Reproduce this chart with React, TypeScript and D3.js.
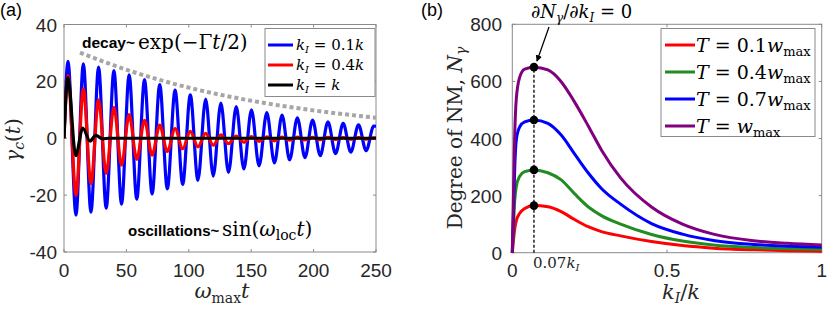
import React from 'react';
import * as d3 from 'd3';

const W = 831;
const H = 311;

// ---------- panel (a): gamma_c(t) ----------
// peak / trough times (shared by blue and red)
const tExt = [0, 3.2, 9.6, 15.5, 21.6, 27.7, 33.8, 40, 46.1, 52.2, 58.3, 64.5, 70.6, 76.7, 82.8, 89, 95.1,
  101.2, 107.3, 113.5, 119.6, 125.7, 131.8, 138, 144.1, 150.2, 156.3, 162.5, 168.6, 174.7, 180.8,
  187, 193.1, 199.2, 205.3, 211.5, 217.6, 223.7, 229.8, 236, 242.1, 248.2, 250];
const blueVals = [0, 27, -27, 26.2, -26, 25, -24.6, 23.8, -23.2, 22.3, -21.4, 20.6, -19.6, 18.9, -17.8,
  16.9, -16.2, 15.3, -14.8, 13.8, -13.3, 12.4, -12, 11.1, -10.8, 10, -9.7, 9, -8.7, 8.1, -7.6,
  7.2, -6.8, 6.4, -6.1, 5.8, -5.4, 5.2, -4.9, 4.7, -4.4, 4.3, 4.2];
const redVals = [0, 22, -20, 17.4, -15.9, 13.5, -12.4, 10.9, -9.5, 8.3, -7.4, 6.3, -5.9, 4.6, -4.6,
  3.4, -3.7, 2.4, -3.0, 1.7, -2.4, 1.2, -1.9, 0.8, -1.4, 0.6, -1.1, 0.5, -0.9, 0.4, -0.7,
  0.4, -0.6, 0.3, -0.5, 0.3, -0.4, 0.2, -0.35, 0.2, -0.3, 0.1, 0.1];
const blackT = [0, 3.1, 9.4, 15, 20.8, 25.5, 31, 36, 250];
const blackVals = [0, 21.4, -6.1, 3.6, -1.0, 1.0, -0.2, 0, 0];
const envT = [12.8, 50, 100, 150, 200, 250];
const envVals = [30.1, 24.1, 17.8, 13.2, 9.8, 7.2];
const aXTicks = [0, 50, 100, 150, 200, 250];
const aYTicks = [-40, -20, 0, 20, 40];
const aLegend = [
  { coef: '0.1', color: '#0000ff' },
  { coef: '0.4', color: '#ff0000' },
  { coef: '', color: '#000000' },
];

// ---------- panel (b): degree of NM ----------
const kGrid = [0, 0.003, 0.008, 0.013, 0.024, 0.04, 0.07, 0.115, 0.158, 0.2, 0.245, 0.288, 0.35,
  0.45, 0.55, 0.65, 0.78, 0.89, 1.0];
const nRed = [0, 35, 85, 112, 138, 155, 165, 161, 144, 117, 91, 74, 59, 39, 25, 16, 10, 7, 5];
const nGreen = [0, 70, 185, 231, 268, 284, 290, 280, 255, 208, 161, 130, 100, 64, 41, 27, 18, 14, 12];
const nBlue = [0, 110, 300, 395, 441, 458, 465, 453, 412, 348, 280, 225, 170, 102, 65, 43, 29, 23, 19];
const nPurple = [0, 160, 420, 540, 615, 643, 650, 640, 599, 530, 445, 360, 262, 160, 100, 65, 42, 33, 27];
const kOpt = 0.07;
const bXTicks = [0, 0.5, 1];
const bYTicks = [0, 200, 400, 600, 800];
const bSeries = [
  { coef: '0.1', color: '#ff0000', vals: nRed },
  { coef: '0.4', color: '#228b22', vals: nGreen },
  { coef: '0.7', color: '#0000ff', vals: nBlue },
  { coef: '', color: '#800080', vals: nPurple },
];

const sans = "'Liberation Sans', Arial, Helvetica, sans-serif";
const serif = "'DejaVu Serif', 'Liberation Serif', serif";
const tickColor = '#262626';
const boxColor = '#8a8a8a';

const xA = d3.scaleLinear().domain([0, 250]).range([64, 376]);
const yA = d3.scaleLinear().domain([-40, 40]).range([252, 24.5]);
const xB = d3.scaleLinear().domain([0, 1]).range([512.3, 821.7]);
const yB = d3.scaleLinear().domain([0, 800]).range([252.7, 24.3]);

const lineA = d3.line<[number, number]>()
  .x(d => xA(d[0]))
  .y(d => yA(d[1]))
  .curve(d3.curveMonotoneX);
const lineB = d3.line<[number, number]>()
  .x(d => xB(d[0]))
  .y(d => yB(d[1]))
  .curve(d3.curveMonotoneX);

const Frame = ({ x, y, xTicks, yTicks, tickLen = 3 }: any) => {
  const [x0, x1] = x.range();
  const [y0, y1] = y.range();
  return (
    <g>
      <rect x={x0} y={y1} width={x1 - x0} height={y0 - y1} fill="none" stroke={boxColor} strokeWidth={1} />
      {xTicks.map((t: number) => (
        <g key={'x' + t}>
          <line x1={x(t)} x2={x(t)} y1={y0} y2={y0 - tickLen} stroke={boxColor} />
          <line x1={x(t)} x2={x(t)} y1={y1} y2={y1 + tickLen} stroke={boxColor} />
        </g>
      ))}
      {yTicks.map((t: number) => (
        <g key={'y' + t}>
          <line x1={x0} x2={x0 + tickLen} y1={y(t)} y2={y(t)} stroke={boxColor} />
          <line x1={x1} x2={x1 - tickLen} y1={y(t)} y2={y(t)} stroke={boxColor} />
        </g>
      ))}
    </g>
  );
};

export default function App() {
  const blueData = d3.zip(tExt, blueVals) as [number, number][];
  const redData = d3.zip(tExt, redVals) as [number, number][];
  const blackData = d3.zip(blackT, blackVals) as [number, number][];
  const envData = d3.zip(envT, envVals) as [number, number][];

  return (
    <svg width={W} height={H} style={{ position: 'absolute', left: 0, top: 0, background: '#fff' }}>
      <defs>
        <clipPath id="clipA">
          <rect x={64} y={24.5} width={312} height={227.5} />
        </clipPath>
        <marker id="arrowHead" viewBox="0 0 10 10" refX={9} refY={5} markerWidth={5} markerHeight={5} orient="auto">
          <path d="M0,0 L10,5 L0,10 z" fill="#000" />
        </marker>
      </defs>

      {/* ===== panel (a) ===== */}
      <text x={0} y={16} fontFamily={sans} fontSize={18} fill="#000">(a)</text>
      <Frame x={xA} y={yA} xTicks={aXTicks} yTicks={aYTicks} />
      {aXTicks.map(t => (
        <text key={t} x={xA(t)} y={277} textAnchor="middle" fontFamily={sans} fontSize={19} fill={tickColor}>{t}</text>
      ))}
      {aYTicks.map(t => (
        <text key={t} x={57} y={yA(t) + 7} textAnchor="end" fontFamily={sans} fontSize={19} fill={tickColor}>{t}</text>
      ))}
      <g clipPath="url(#clipA)">
        <path d={lineA(envData) || ''} fill="none" stroke="#a6a6a6" strokeWidth={4} strokeDasharray="4 3" />
        <path d={lineA(blueData) || ''} fill="none" stroke="#0000ff" strokeWidth={3.2} />
        <path d={lineA(redData) || ''} fill="none" stroke="#ff0000" strokeWidth={3.2} />
        <path d={lineA(blackData) || ''} fill="none" stroke="#000" strokeWidth={3.2} />
      </g>

      <text x={82} y={48} fontFamily={sans} fontWeight="bold" fontSize={15.5} fill="#000">decay~</text>
      <text x={138} y={49} fontFamily={serif} fontSize={20} fill="#000">
        exp(−Γ<tspan fontStyle="italic">t</tspan>/2)
      </text>
      <text x={128} y={236} fontFamily={sans} fontWeight="bold" fontSize={15} fill="#000">oscillations~</text>
      <text x={222} y={236} fontFamily={serif} fontSize={20} fill="#000">
        sin(<tspan fontStyle="italic">ω</tspan><tspan dy={4} fontSize={14}>loc</tspan><tspan dy={-4} fontStyle="italic">t</tspan>)
      </text>

      {/* legend (a) */}
      <rect x={265} y={28.5} width={110} height={68} fill="#fff" stroke={boxColor} />
      {aLegend.map((d, i) => {
        const yy = 45 + i * 20;
        return (
          <g key={i}>
            <line x1={268} x2={293} y1={yy} y2={yy} stroke={d.color} strokeWidth={3} />
            <text x={296} y={yy + 5} fontFamily={serif} fontSize={15} fill="#000">
              <tspan fontStyle="italic">k</tspan>
              <tspan dy={3} fontSize={10} fontStyle="italic">I</tspan>
              <tspan dy={-3}> = {d.coef}</tspan>
              <tspan fontStyle="italic">k</tspan>
            </text>
          </g>
        );
      })}

      {/* axis labels (a) */}
      <text x={222} y={298} textAnchor="middle" fontFamily={serif} fontSize={21} fill={tickColor}>
        <tspan fontStyle="italic">ω</tspan><tspan dy={5} fontSize={14}>max</tspan><tspan dy={-5} fontStyle="italic">t</tspan>
      </text>
      <text transform="translate(20,140) rotate(-90)" textAnchor="middle" fontFamily={serif} fontSize={20} fill={tickColor}>
        <tspan fontStyle="italic">γ</tspan><tspan dy={4} fontSize={14} fontStyle="italic">c</tspan><tspan dy={-4}>(</tspan><tspan fontStyle="italic">t</tspan>)
      </text>

      {/* ===== panel (b) ===== */}
      <text x={421} y={16} fontFamily={sans} fontSize={18} fill="#000">(b)</text>
      <Frame x={xB} y={yB} xTicks={bXTicks} yTicks={bYTicks} />
      {bXTicks.map(t => (
        <text key={t} x={xB(t)} y={277} textAnchor="middle" fontFamily={sans} fontSize={19} fill={tickColor}>{t}</text>
      ))}
      {bYTicks.map(t => (
        <text key={t} x={502} y={yB(t) + 7} textAnchor="end" fontFamily={sans} fontSize={19} fill={tickColor}>{t}</text>
      ))}

      {bSeries.map(s => (
        <path key={s.color} d={lineB(d3.zip(kGrid, s.vals) as [number, number][]) || ''} fill="none" stroke={s.color} strokeWidth={3} />
      ))}

      <line x1={xB(kOpt)} x2={xB(kOpt)} y1={yB(0)} y2={yB(nPurple[kGrid.indexOf(kOpt)])} stroke="#000" strokeWidth={1.3} strokeDasharray="3 2" />
      {bSeries.map(s => (
        <circle key={s.color} cx={xB(kOpt)} cy={yB(s.vals[kGrid.indexOf(kOpt)])} r={4.3} fill="#000" />
      ))}

      <line x1={549} y1={27} x2={xB(kOpt) + 3} y2={yB(650) - 6} stroke="#000" strokeWidth={1.3} markerEnd="url(#arrowHead)" />
      <text x={531} y={18} fontFamily={serif} fontSize={18} fill="#000">
        ∂<tspan fontStyle="italic">N</tspan><tspan dy={4} fontSize={12} fontStyle="italic">γ</tspan>
        <tspan dy={-4}>/∂</tspan><tspan fontStyle="italic">k</tspan><tspan dy={4} fontSize={12} fontStyle="italic">I</tspan>
        <tspan dy={-4}> = 0</tspan>
      </text>
      <text x={533} y={268} fontFamily={serif} fontSize={15} fill={tickColor}>
        0.07<tspan fontStyle="italic">k</tspan><tspan dy={3} fontSize={10} fontStyle="italic">I</tspan>
      </text>

      {/* legend (b) */}
      <rect x={661} y={28.5} width={154} height={108} fill="#fff" stroke={boxColor} />
      {bSeries.map((s, i) => {
        const yy = 45 + i * 27;
        return (
          <g key={s.color}>
            <line x1={665} x2={695} y1={yy} y2={yy} stroke={s.color} strokeWidth={3} />
            <text x={696} y={yy + 7} fontFamily={serif} fontSize={19} fill="#000">
              <tspan fontStyle="italic">T</tspan>
              <tspan> = {s.coef}</tspan>
              <tspan fontStyle="italic">w</tspan>
              <tspan dy={4} fontSize={13}>max</tspan>
            </text>
          </g>
        );
      })}

      {/* axis labels (b) */}
      <text x={681} y={299} textAnchor="middle" fontFamily={serif} fontSize={21} fill={tickColor}>
        <tspan fontStyle="italic">k</tspan><tspan dy={4} fontSize={14} fontStyle="italic">I</tspan><tspan dy={-4}>/</tspan><tspan fontStyle="italic">k</tspan>
      </text>
      <text transform="translate(462,138) rotate(-90)" textAnchor="middle" fontFamily={serif} fontSize={20} fill={tickColor}>
        Degree of NM, <tspan fontStyle="italic">N</tspan><tspan dy={4} fontSize={14} fontStyle="italic">γ</tspan>
      </text>
    </svg>
  );
}
